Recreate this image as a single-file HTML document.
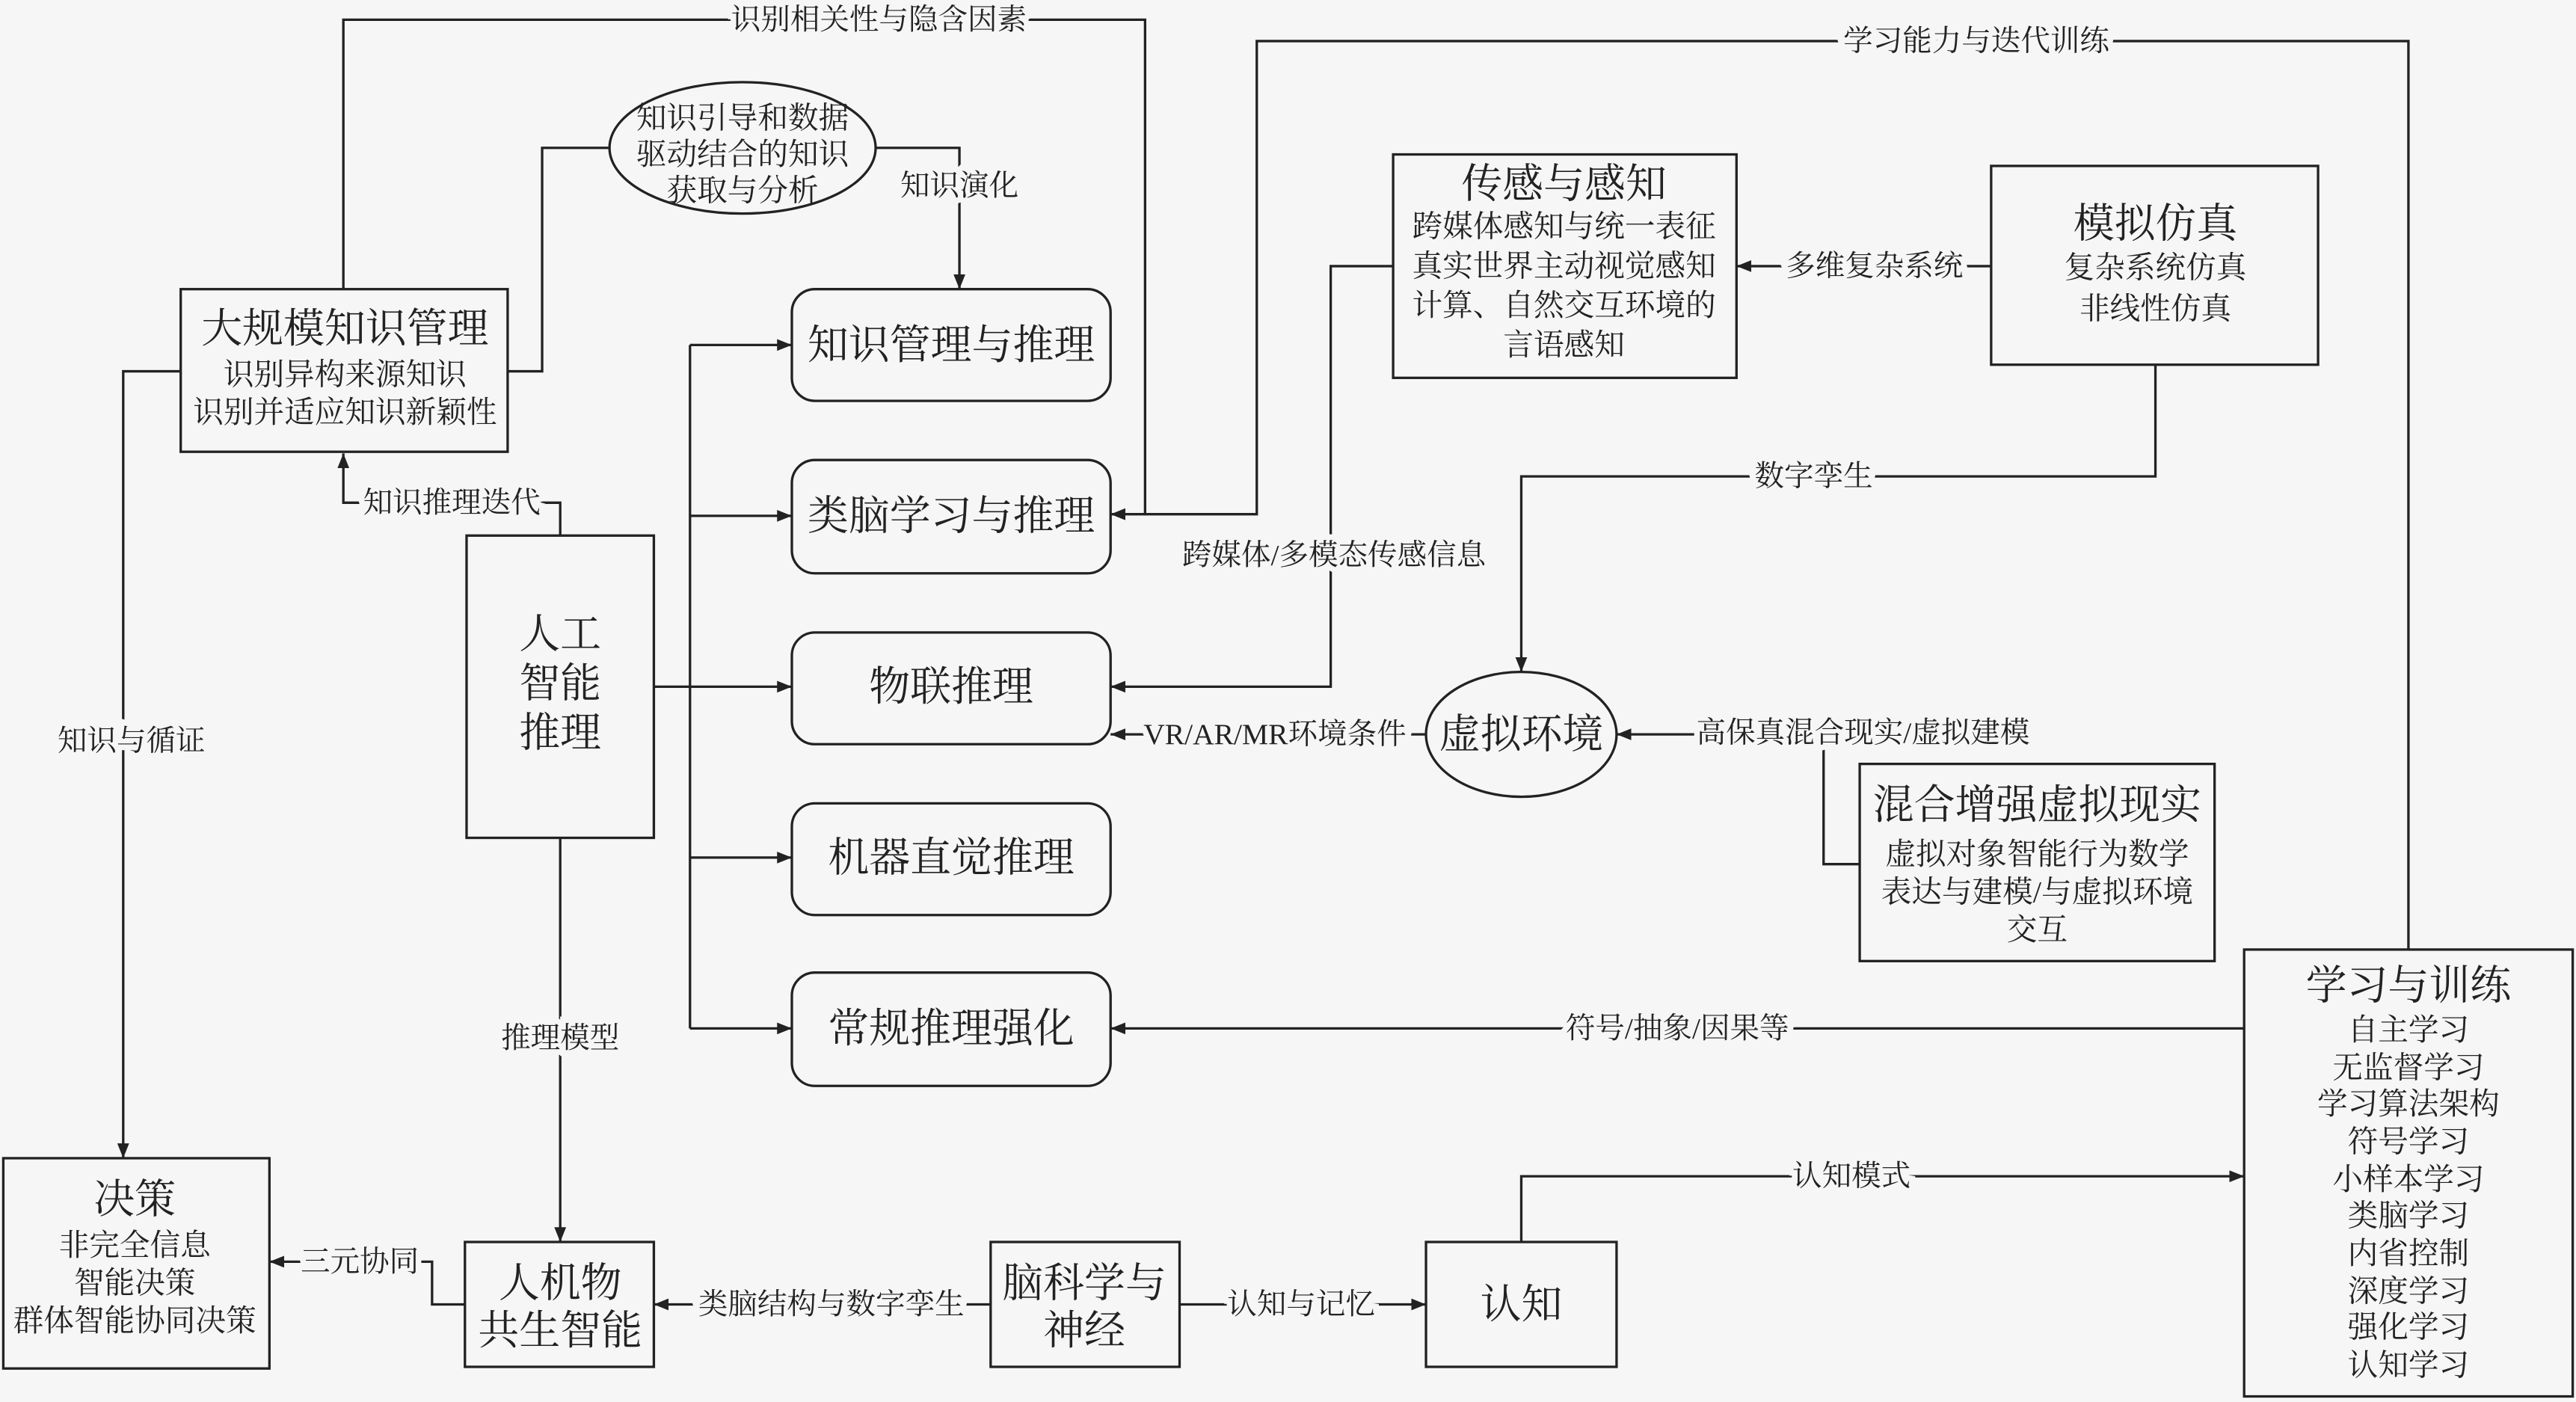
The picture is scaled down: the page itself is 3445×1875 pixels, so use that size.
<!DOCTYPE html>
<html><head><meta charset="utf-8"><style>
html,body{margin:0;padding:0;background:#f6f6f6;}
svg{display:block;}
text{font-family:"Liberation Serif","Noto Serif CJK SC",serif;fill:#222;text-anchor:middle;dominant-baseline:central;}
.l{font-size:18px;stroke:#f6f6f6;stroke-width:7px;paint-order:stroke;}
.t{font-size:25px;}
.s{font-size:18.5px;}
</style></head><body>
<svg width="3445" height="1875" viewBox="0 0 1568 853.4" preserveAspectRatio="none" xmlns="http://www.w3.org/2000/svg">
<defs><marker id="a" viewBox="0 0 10 10" refX="10" refY="5" markerWidth="9" markerHeight="9" markerUnits="userSpaceOnUse" orient="auto"><path d="M0,1 L10,5 L0,9 z" fill="#222"/></marker></defs>
<rect width="1568" height="853.4" fill="#f6f6f6"/>
<g fill="none" stroke="#222" stroke-width="1.5">
<rect x="110" y="176" width="199" height="99"/>
<ellipse cx="452" cy="90" rx="81" ry="40"/>
<rect x="482" y="176" width="194" height="68" rx="14"/>
<rect x="482" y="280" width="194" height="69" rx="14"/>
<rect x="482" y="385" width="194" height="68" rx="14"/>
<rect x="482" y="489" width="194" height="68" rx="14"/>
<rect x="482" y="592" width="194" height="69" rx="14"/>
<rect x="284" y="326" width="114" height="184"/>
<rect x="2" y="705" width="162" height="128"/>
<rect x="283" y="756" width="115" height="76"/>
<rect x="603" y="756" width="115" height="76"/>
<rect x="868" y="756" width="116" height="76"/>
<rect x="1366" y="578" width="200" height="272"/>
<rect x="848" y="94" width="209" height="136"/>
<rect x="1212" y="101" width="199" height="121"/>
<ellipse cx="926" cy="447" rx="58" ry="38"/>
<rect x="1132" y="465" width="216" height="120"/>
<path d="M209,176 V12 H697 V313 H676" marker-end="url(#a)"/>
<path d="M1466,578 V25 H765 V313 H697"/>
<path d="M309,226 H330 V90 H371"/>
<path d="M533,90 H584 V176" marker-end="url(#a)"/>
<path d="M398,418 H420"/>
<path d="M420,210 V626"/>
<path d="M420,210 H482" marker-end="url(#a)"/>
<path d="M420,314 H482" marker-end="url(#a)"/>
<path d="M420,418 H482" marker-end="url(#a)"/>
<path d="M420,522 H482" marker-end="url(#a)"/>
<path d="M420,626 H482" marker-end="url(#a)"/>
<path d="M341,326 V306 H209 V276" marker-end="url(#a)"/>
<path d="M110,226 H75 V705" marker-end="url(#a)"/>
<path d="M341,510 V756" marker-end="url(#a)"/>
<path d="M283,794 H263 V768 H164" marker-end="url(#a)"/>
<path d="M603,794 H398" marker-end="url(#a)"/>
<path d="M718,794 H868" marker-end="url(#a)"/>
<path d="M926,756 V716 H1366" marker-end="url(#a)"/>
<path d="M1366,626 H676" marker-end="url(#a)"/>
<path d="M1212,162 H1057" marker-end="url(#a)"/>
<path d="M848,162 H810 V418 H676" marker-end="url(#a)"/>
<path d="M1312,222 V290 H926 V409" marker-end="url(#a)"/>
<path d="M868,447 H676" marker-end="url(#a)"/>
<path d="M1132,526 H1110 V447 H984" marker-end="url(#a)"/>
</g>
<text class="l" x="535" y="12">识别相关性与隐含因素</text>
<text class="l" x="1203" y="25">学习能力与迭代训练</text>
<text class="l" x="584" y="113">知识演化</text>
<text class="l" x="275" y="306">知识推理迭代</text>
<text class="l" x="80" y="451">知识与循证</text>
<text class="l" x="341" y="632">推理模型</text>
<text class="l" x="219" y="768">三元协同</text>
<text class="l" x="506" y="794">类脑结构与数字孪生</text>
<text class="l" x="792" y="794">认知与记忆</text>
<text class="l" x="1127" y="716">认知模式</text>
<text class="l" x="1021" y="626">符号/抽象/因果等</text>
<text class="l" x="1141" y="162">多维复杂系统</text>
<text class="l" x="812" y="338">跨媒体/多模态传感信息</text>
<text class="l" x="1104" y="290">数字孪生</text>
<text class="l" x="776" y="447">VR/AR/MR环境条件</text>
<text class="l" x="1134" y="446">高保真混合现实/虚拟建模</text>
<text class="t" x="210" y="200">大规模知识管理</text>
<text class="s" x="210" y="228">识别异构来源知识</text>
<text class="s" x="210" y="251">识别并适应知识新颖性</text>
<text class="s" x="452" y="72">知识引导和数据</text>
<text class="s" x="452" y="94">驱动结合的知识</text>
<text class="s" x="452" y="116">获取与分析</text>
<text class="t" x="579" y="210">知识管理与推理</text>
<text class="t" x="579" y="314">类脑学习与推理</text>
<text class="t" x="579" y="418">物联推理</text>
<text class="t" x="579" y="522">机器直觉推理</text>
<text class="t" x="579" y="626">常规推理强化</text>
<text class="t" x="341" y="386">人工</text>
<text class="t" x="341" y="416">智能</text>
<text class="t" x="341" y="446">推理</text>
<text class="t" x="82" y="730">决策</text>
<text class="s" x="82" y="758">非完全信息</text>
<text class="s" x="82" y="781">智能决策</text>
<text class="s" x="82" y="804">群体智能协同决策</text>
<text class="t" x="341" y="781">人机物</text>
<text class="t" x="341" y="810">共生智能</text>
<text class="t" x="660" y="781">脑科学与</text>
<text class="t" x="660" y="810">神经</text>
<text class="t" x="926" y="794">认知</text>
<text class="t" x="1466" y="600">学习与训练</text>
<text class="s" x="1466" y="627">自主学习</text>
<text class="s" x="1466" y="650">无监督学习</text>
<text class="s" x="1466" y="672">学习算法架构</text>
<text class="s" x="1466" y="695">符号学习</text>
<text class="s" x="1466" y="718">小样本学习</text>
<text class="s" x="1466" y="740">类脑学习</text>
<text class="s" x="1466" y="763">内省控制</text>
<text class="s" x="1466" y="786">深度学习</text>
<text class="s" x="1466" y="808">强化学习</text>
<text class="s" x="1466" y="831">认知学习</text>
<text class="t" x="952" y="112">传感与感知</text>
<text class="s" x="952" y="138">跨媒体感知与统一表征</text>
<text class="s" x="952" y="162">真实世界主动视觉感知</text>
<text class="s" x="952" y="186">计算、自然交互环境的</text>
<text class="s" x="952" y="210">言语感知</text>
<text class="t" x="1312" y="136">模拟仿真</text>
<text class="s" x="1312" y="163">复杂系统仿真</text>
<text class="s" x="1312" y="188">非线性仿真</text>
<text class="t" x="926" y="447">虚拟环境</text>
<text class="t" x="1240" y="490">混合增强虚拟现实</text>
<text class="s" x="1240" y="520">虚拟对象智能行为数学</text>
<text class="s" x="1240" y="543">表达与建模/与虚拟环境</text>
<text class="s" x="1240" y="566">交互</text>
</svg>
</body></html>
